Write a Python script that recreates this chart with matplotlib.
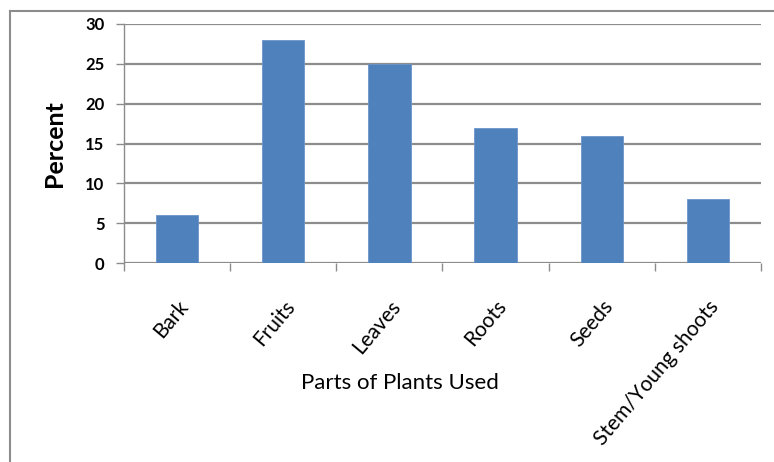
import matplotlib.pyplot as plt
from matplotlib.lines import Line2D

parts = ['Bark', 'Fruits', 'Leaves', 'Roots', 'Seeds', 'Stem/Young shoots']
percent = [6, 28, 25, 17, 16, 8]
yticks = [0, 5, 10, 15, 20, 25, 30]

plt.rcParams['font.family'] = ['Lato', 'DejaVu Sans']

W, H = 774, 462
fig = plt.figure(figsize=(W / 100, H / 100), dpi=100)
ax = fig.add_axes([124 / W, 1 - 263 / H, (761 - 124) / W, (263 - 24) / H])

x = list(range(len(parts)))
ax.bar(x, percent, width=0.4, color='#4F81BD', edgecolor='#6b95c8', linewidth=0.6, zorder=3)

ax.set_xlim(-0.5, len(parts) - 0.5)
ax.set_ylim(0, 30)
ax.set_yticks(yticks)
ax.set_yticklabels([str(v) for v in yticks], fontsize=12, fontweight='bold')
ax.yaxis.grid(True, color='#8c8c8c', linewidth=1.6, zorder=0)

# category boundary ticks like Excel
ax.set_xticks([i - 0.5 for i in range(len(parts) + 1)], minor=False)
ax.set_xticklabels([])
ax.tick_params(axis='x', length=6, color='#8c8c8c', width=1)
ax.set_xticks(x, minor=True)
ax.set_xticklabels(parts, minor=True, rotation=50, ha='right', rotation_mode='anchor', fontsize=15)
ax.tick_params(axis='x', which='minor', length=0, pad=24)
ax.tick_params(axis='y', length=6, color='#8c8c8c', width=1, pad=8)

for s in ['top', 'right', 'bottom']:
    ax.spines[s].set_visible(False)
ax.spines['left'].set_color('#8c8c8c')
ax.spines['left'].set_linewidth(1)

ax.set_ylabel('Percent', fontsize=18, fontweight='bold', labelpad=14)
fig.text(400 / W, 1 - 383 / H, 'Parts of Plants Used', fontsize=16, ha='center', va='center')

# outer chart border (top and left visible)
fig.add_artist(Line2D([10 / W, 1], [1 - 11 / H, 1 - 11 / H], color='#8c8c8c', linewidth=1.5, transform=fig.transFigure))
fig.add_artist(Line2D([10 / W, 10 / W], [0, 1 - 11 / H], color='#8c8c8c', linewidth=1.5, transform=fig.transFigure))

fig.savefig('out.png', dpi=100)
